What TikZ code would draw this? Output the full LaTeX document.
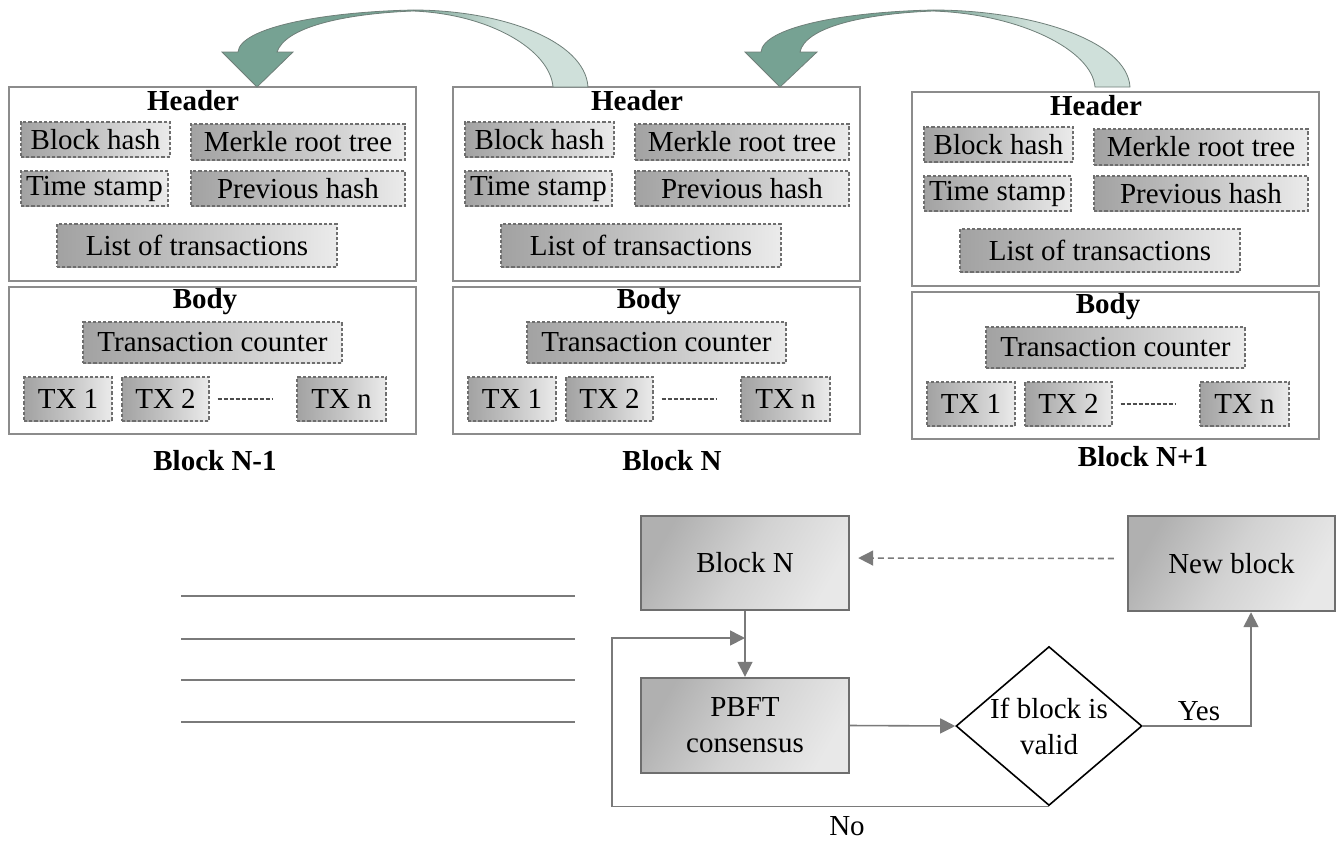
\documentclass[tikz,border=0pt]{standalone}
\usepackage{fontspec}
\setmainfont{Liberation Serif}
\usetikzlibrary{shapes.geometric,arrows.meta}
\definecolor{tealdark}{HTML}{76A293}
\definecolor{teallight}{HTML}{CFE0DA}
\definecolor{tealedge}{HTML}{6F7F79}
\definecolor{boxgray}{HTML}{8C8C8C}
\definecolor{dashgray}{HTML}{6E6E6E}
\definecolor{shdark}{HTML}{A2A2A2}
\definecolor{shmid}{HTML}{C4C4C4}
\definecolor{shlight}{HTML}{EBEBEB}
\definecolor{fldark}{HTML}{B0B0B0}
\definecolor{flmid}{HTML}{D2D2D2}
\definecolor{fllight}{HTML}{E8E8E8}
\definecolor{flowedge}{HTML}{6E6E6E}
\definecolor{linegray}{HTML}{7A7A7A}
\tikzset{
  x=0.5pt, y=-0.5pt,
  txt/.style={font=\fontsize{14.5}{18}\selectfont, inner sep=0pt},
  titletext/.style={font=\fontsize{14.5}{18}\selectfont\bfseries, inner sep=0pt},
  outerbox/.style={draw=boxgray, line width=0.6pt, fill=white, inner sep=0pt},
  innerbox/.style={txt, draw=dashgray, dash pattern=on 1.6pt off 1pt, line width=0.6pt,
    left color=shdark, right color=shlight, middle color=shmid},
  flowbox/.style={txt, draw=flowedge, line width=1.2pt, align=center,
    left color=fldark, right color=fllight, middle color=flmid, shading angle=60},
  flow/.style={draw=linegray, line width=0.8pt, -{Triangle[length=7.5pt,width=7.5pt]}},
  txdots/.style={draw=black!70, line width=0.6pt, dash pattern=on 2pt off 1pt},
  decision/.style={diamond, draw=black, line width=0.8pt, fill=white, inner sep=0pt,
    minimum width=93pt, minimum height=79.5pt},
  sideline/.style={draw=linegray, line width=1pt},
  bigarrow/.style={draw=tealedge, line width=0.4pt}
}
% box node from pixel corners: style, name, x1, y1, x2, y2, text
\newcommand\boxnode[7]{%
  \pgfmathsetmacro\bxcx{(#3+#5)/2}\pgfmathsetmacro\bxcy{(#4+#6)/2}%
  \pgfmathsetmacro\bxw{(#5-#3)*0.5}\pgfmathsetmacro\bxh{(#6-#4)*0.5}%
  \node[#1, minimum width=\bxw pt, minimum height=\bxh pt] (#2) at (\bxcx,\bxcy) {#7};}
\newcommand\chainblock[3]{%
\begin{scope}[shift={(#2,#3)}, name prefix=#1-]
  \boxnode{outerbox}{hdr}{9}{87}{416}{281}{}
  \node[titletext] (hdrt) at (193,101) {Header};
  \boxnode{innerbox}{bh}{21}{122}{170}{157}{Block hash}
  \boxnode{innerbox}{mr}{191}{124}{405}{160}{Merkle root tree}
  \boxnode{innerbox}{ts}{21}{171}{168}{206}{Time stamp}
  \boxnode{innerbox}{ph}{191}{171}{405}{206}{Previous hash}
  \boxnode{innerbox}{lt}{57}{224}{337}{267}{List of transactions}
  \boxnode{outerbox}{body}{9}{287}{416}{434}{}
  \node[titletext] (bodyt) at (205,302) {Body};
  \boxnode{innerbox}{tc}{83}{322}{342}{363}{Transaction counter}
  \boxnode{innerbox}{tx1}{24}{377}{112}{421}{TX 1}
  \boxnode{innerbox}{tx2}{122}{377}{209}{421}{TX 2}
  \boxnode{innerbox}{txn}{297}{377}{386}{421}{TX n}
  \draw[txdots, shorten <=4pt, shorten >=12pt] (tx2.east) -- (txn.west);
\end{scope}}
\begin{document}
\begin{tikzpicture}
\useasboundingbox (0,0) rectangle (1337,842);

% blocks
\chainblock{b1}{0}{0}
\chainblock{b2}{444}{0}
\chainblock{b3}{903}{5}
\node[titletext] (lbl1) at (215,461) {Block N-1};
\node[titletext] (lbl2) at (672,461) {Block N};
\node[titletext] (lbl3) at (1143,457) {Block N+1};

% curved arrows
\fill[tealdark] (238,52) .. controls (240,28) and (320,12) .. (413,10)
  -- (413,11) .. controls (340,14) and (285,28) .. (277,52)
  -- (293,52) -- (257,87) -- (222,52) -- cycle;
\draw[bigarrow] (238,52) .. controls (240,28) and (320,12) .. (413,10);
\draw[bigarrow] (413,11) .. controls (340,14) and (285,28) .. (277,52)
  -- (293,52) -- (257,87) -- (222,52) -- (238,52);
\shade[left color=tealdark, right color=teallight, middle color=teallight]
  (413,10) .. controls (500,10) and (585,40) .. (588,87)
  -- (553,87) .. controls (550,50) and (490,14) .. (413,11) -- cycle;
\draw[bigarrow] (413,10) .. controls (500,10) and (585,40) .. (588,87)
  -- (553,87) .. controls (550,50) and (490,14) .. (413,11);

\fill[tealdark] (761,52) .. controls (763,28) and (840,12) .. (933,10)
  -- (933,11) .. controls (860,14) and (805,28) .. (800,52)
  -- (817,52) -- (780,87) -- (745,52) -- cycle;
\draw[bigarrow] (761,52) .. controls (763,28) and (840,12) .. (933,10);
\draw[bigarrow] (933,11) .. controls (860,14) and (805,28) .. (800,52)
  -- (817,52) -- (780,87) -- (745,52) -- (761,52);
\shade[left color=tealdark, right color=teallight, middle color=teallight]
  (933,10) .. controls (1030,10) and (1127,40) .. (1130,87)
  -- (1095,87) .. controls (1092,50) and (1020,14) .. (933,11) -- cycle;
\draw[bigarrow] (933,10) .. controls (1030,10) and (1127,40) .. (1130,87)
  -- (1095,87) .. controls (1092,50) and (1020,14) .. (933,11);

% side lines
\draw[sideline] (181,596) -- (575,596);
\draw[sideline] (181,639) -- (575,639);
\draw[sideline] (181,680) -- (575,680);
\draw[sideline] (181,722) -- (575,722);

% flowchart
\boxnode{flowbox}{bn}{641}{516}{849}{610}{Block N}
\boxnode{flowbox}{pb}{641}{678}{849}{773}{PBFT\\consensus}
\boxnode{flowbox}{nb}{1128}{516}{1335}{611}{New block}
\node[decision, label={[txt, align=center]center:If block is\\valid}] (dm) at (1049,726) {};
\coordinate (loopc) at (612,638);

\draw[flow] (bn.south) -- (pb.north);
\draw[flow] (pb.east) -- (dm.west);
\draw[flow] (dm.east) -| ([xshift=9.75pt]nb.south);
\draw[flow] (dm.south) -| (loopc) -- (loopc -| bn.south);
\draw[flow, dash pattern=on 3pt off 2pt, shorten <=6.5pt, shorten >=4pt]
  ([yshift=2.5pt]nb.west) -- ([yshift=2.5pt]bn.east);
\node[txt] (yes) at (1199,711) {Yes};
\node[txt] (no) at (847,826) {No};
\end{tikzpicture}
\end{document}
